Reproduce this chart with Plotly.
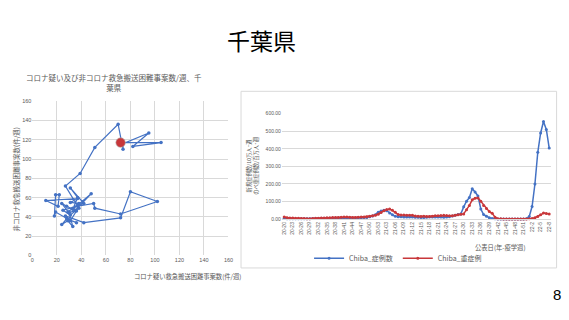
import plotly.graph_objects as go

# ---- left chart data (trajectory, weekly) ----
corona_suspect = [30, 33, 29, 24, 28, 36, 30, 19, 18, 19, 22, 21, 11, 37, 31, 38, 29, 33, 42, 31,
                  37, 33, 48, 35, 30, 24, 28, 36, 31, 27, 42, 72, 80, 102, 72, 51, 50, 37, 25, 31,
                  38, 27, 39, 51, 70, 74, 74, 95, 82, 105, 72]
non_corona = [45, 30, 36, 32, 38, 34, 37, 45, 41, 63, 63, 51, 57, 59, 55, 54, 45, 49, 54, 70,
              60, 48, 64, 47, 44, 54, 51, 46, 36, 41, 34, 39, 66, 56, 43, 49, 54, 51, 47, 42,
              49, 72, 85, 112, 136, 110, 116, 127, 113, 117, 117]

# ---- right chart data ----
weeks = [f"20-{w}" for w in range(20, 54)] + [f"21-{w:02d}" for w in range(1, 53)] + [f"22-{w}" for w in range(1, 9)]
chiba_cases = [5, 3, 2, 2, 2, 2, 2, 3, 3, 3,
               4, 4, 4, 5, 5, 5, 5, 6, 6, 6,
               6, 6, 5, 5, 6, 7, 7, 8, 9, 10,
               14, 18, 25, 40, 47, 50, 48, 35, 25, 16,
               14, 14, 13, 13, 12, 12, 11, 11, 10, 10,
               11, 12, 13, 13, 12, 12, 11, 12, 14, 18,
               22, 26, 30, 70, 102, 123, 173, 154, 132, 58,
               26, 17, 8, 4, 2, 1, 1, 1, 1, 1,
               1, 1, 1, 1, 1, 3, 15, 72, 200, 380,
               490, 555, 510, 405]
chiba_severe = [12, 8, 7, 6, 5, 5, 4, 4, 3, 3,
                4, 5, 5, 6, 7, 8, 8, 9, 10, 10,
                11, 12, 12, 11, 10, 10, 11, 12, 13, 14,
                17, 20, 22, 28, 38, 48, 55, 58, 50, 40,
                26, 24, 24, 23, 23, 22, 18, 16, 15, 16,
                15, 15, 17, 19, 20, 21, 22, 21, 20, 20,
                22, 25, 28, 30, 54, 78, 110, 119, 121, 102,
                78, 60, 43, 33, 11, 3, 2, 1, 1, 1,
                1, 1, 1, 1, 1, 1, 2, 4, 8, 15,
                25, 35, 32, 30]
tick_idx = list(range(0, len(weeks), 3))
tick_text = [weeks[i] for i in tick_idx]
y_right_ticks = [0, 100, 200, 300, 400, 500, 600]

W, H = 569, 320
def px(x):
    return x / W
def py(y):
    return 1 - y / H

BLUE = "#4472C4"
RED = "#C8373A"
GRID = "#D9D9D9"
TXT = "#595959"
JP = "Noto Sans CJK JP"
NUM = "Liberation Sans"

fig = go.Figure()

fig.add_trace(go.Scatter(
    x=corona_suspect, y=non_corona, mode="lines+markers",
    line=dict(color=BLUE, width=1.2), marker=dict(color=BLUE, size=3.5),
    xaxis="x", yaxis="y", showlegend=False, cliponaxis=False))
fig.add_trace(go.Scatter(
    x=[corona_suspect[-1]], y=[non_corona[-1]], mode="markers",
    marker=dict(color=RED, size=9.5, line=dict(color="#B0B0B0", width=0.6)),
    xaxis="x", yaxis="y", showlegend=False, cliponaxis=False))

fig.add_trace(go.Scatter(
    x=list(range(len(weeks))), y=chiba_cases, mode="lines+markers", name="Chiba_症例数",
    line=dict(color=BLUE, width=1.5), marker=dict(color=BLUE, size=3),
    xaxis="x2", yaxis="y2", cliponaxis=False))
fig.add_trace(go.Scatter(
    x=list(range(len(weeks))), y=chiba_severe, mode="lines+markers", name="Chiba_重症例",
    line=dict(color=RED, width=1.5), marker=dict(color=RED, size=3),
    xaxis="x2", yaxis="y2", cliponaxis=False))

fig.update_layout(
    width=W, height=H, margin=dict(l=0, r=0, t=0, b=0),
    paper_bgcolor="white", plot_bgcolor="white",
    xaxis=dict(domain=[px(30.7), px(229.3)], range=[0, 160], dtick=20, showgrid=True,
               gridcolor=GRID, gridwidth=0.8, zeroline=False, showline=False,
               tickfont=dict(size=5.5, color=TXT, family=NUM), ticks="", anchor="y", fixedrange=True),
    yaxis=dict(domain=[py(257.3), py(100)], range=[0, 160], dtick=20, showgrid=True,
               gridcolor=GRID, gridwidth=0.8, zeroline=False, showline=False,
               tickfont=dict(size=5.5, color=TXT, family=NUM), ticks="", anchor="x", fixedrange=True),
    xaxis2=dict(domain=[px(283.4), px(556.3)], range=[-0.8, len(weeks) - 0.2], tickmode="array",
                tickvals=tick_idx, ticktext=tick_text, tickangle=-90, showgrid=False,
                zeroline=False, showline=True, linecolor=GRID, linewidth=0.8, ticks="",
                tickfont=dict(size=5, color=TXT, family=NUM), anchor="y2"),
    yaxis2=dict(domain=[py(220.3), py(112.7)], range=[0, 600], tickmode="array",
                tickvals=y_right_ticks, ticktext=[f"{v:.2f}" for v in y_right_ticks],
                showgrid=True, gridcolor=GRID, gridwidth=0.8, zeroline=False, showline=False,
                ticks="", tickfont=dict(size=5, color=TXT, family=NUM), anchor="x2"),
    legend=dict(orientation="h", x=px(401), y=py(260), xanchor="center", yanchor="middle",
                font=dict(size=7, color=TXT, family=JP), bgcolor="rgba(0,0,0,0)",
                itemwidth=30, tracegroupgap=0),
    shapes=[dict(type="rect", xref="paper", yref="paper", x0=px(242), x1=px(561.5),
                 y0=py(270), y1=py(90), line=dict(color=GRID, width=1), fillcolor="rgba(0,0,0,0)",
                 layer="below")],
    annotations=[
        dict(text="千葉県", x=px(263), y=py(38), xref="paper", yref="paper", showarrow=False,
             xanchor="center", yanchor="middle", font=dict(size=23, color="black", family=JP)),
        dict(text="コロナ疑い及び非コロナ救急搬送困難事案数/週、千<br>葉県", x=px(113), y=py(81),
             xref="paper", yref="paper", showarrow=False, xanchor="center", yanchor="middle",
             align="center", font=dict(size=7.5, color=TXT, family=JP)),
        dict(text="非コロナ救急搬送困難事案数(件/週)", x=px(14), y=py(180), xref="paper", yref="paper",
             showarrow=False, textangle=-90, xanchor="center", yanchor="middle",
             font=dict(size=6.5, color=TXT, family=JP)),
        dict(text="コロナ疑い救急搬送困難事案数(件/週)", x=px(188), y=py(279), xref="paper", yref="paper",
             showarrow=False, xanchor="center", yanchor="middle",
             font=dict(size=6.3, color=TXT, family=JP)),
        dict(text="新規症例数/10万人･週<br>のべ重症例数/百万人･週", x=px(254), y=py(166), xref="paper",
             yref="paper", showarrow=False, textangle=-90, xanchor="center", yanchor="middle",
             align="center", font=dict(size=5.3, color=TXT, family=JP)),
        dict(text="公表日(年-疫学週)", x=px(505), y=py(249), xref="paper", yref="paper",
             showarrow=False, xanchor="center", yanchor="middle",
             font=dict(size=6.3, color=TXT, family=JP)),
        dict(text="8", x=px(562), y=py(297), xref="paper", yref="paper", showarrow=False,
             xanchor="center", yanchor="middle", font=dict(size=15, color="black", family=NUM)),
    ],
)

fig.write_html("out.html")
